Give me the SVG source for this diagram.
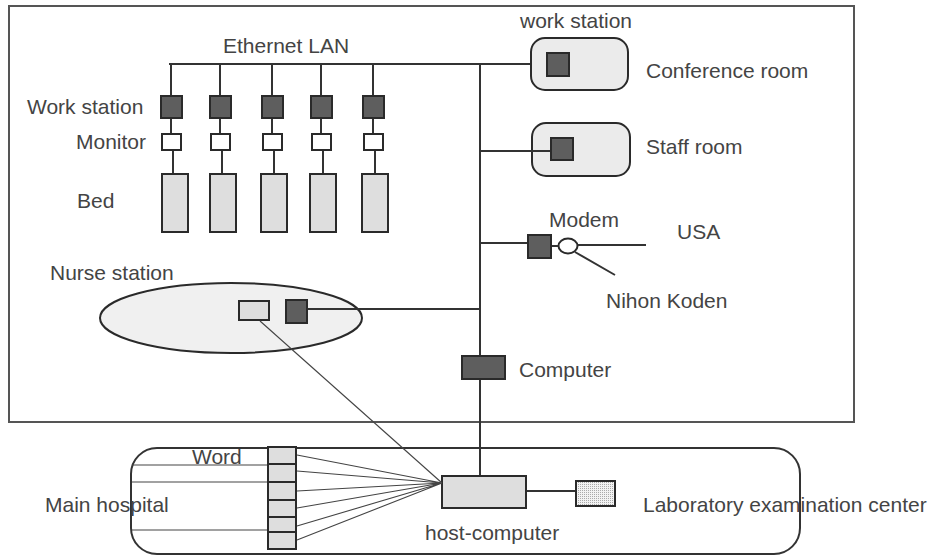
<svg xmlns="http://www.w3.org/2000/svg" width="935" height="556" viewBox="0 0 935 556">
<style>
text{font-family:"Liberation Sans",Arial,sans-serif;font-size:21px;fill:#444}
.ln{stroke:#333;stroke-width:2;fill:none}
.thin{stroke:#444;stroke-width:1.1;fill:none}
.dk{fill:#5e5e5e;stroke:#2a2a2a;stroke-width:2}
.lt{fill:#dedede;stroke:#2a2a2a;stroke-width:2}
.wh{fill:#fff;stroke:#2a2a2a;stroke-width:2}
.room{fill:#ebebeb;stroke:#2a2a2a;stroke-width:2}
</style>
<defs>
<pattern id="grid" width="2" height="2" patternUnits="userSpaceOnUse">
<rect width="2" height="2" fill="#f2f2f2"/>
<rect width="1" height="1" fill="#aaa"/>
</pattern>
</defs>
<rect x="9" y="6" width="845" height="416" fill="none" stroke="#555" stroke-width="2"/>
<g id="beds">
<rect class="dk" x="161" y="96" width="21" height="22"/>
<rect class="dk" x="210" y="96" width="21" height="22"/>
<rect class="dk" x="262" y="96" width="21" height="22"/>
<rect class="dk" x="311" y="96" width="21" height="22"/>
<rect class="dk" x="363" y="96" width="21" height="22"/>
<rect class="wh" x="162" y="134" width="19" height="16"/>
<rect class="wh" x="211" y="134" width="19" height="16"/>
<rect class="wh" x="263" y="134" width="19" height="16"/>
<rect class="wh" x="312" y="134" width="19" height="16"/>
<rect class="wh" x="364" y="134" width="19" height="16"/>
<rect class="lt" x="162" y="174" width="26" height="58"/>
<rect class="lt" x="210" y="174" width="26" height="58"/>
<rect class="lt" x="261" y="174" width="26" height="58"/>
<rect class="lt" x="310" y="174" width="26" height="58"/>
<rect class="lt" x="362" y="174" width="26" height="58"/>
</g>
<g id="labels-left">
<text x="27" y="114">Work station</text>
<text x="76" y="149">Monitor</text>
<text x="77" y="208">Bed</text>
<text x="223" y="53">Ethernet LAN</text>
</g>
<g id="conference">
<rect class="room" x="531" y="38" width="97" height="52" rx="14"/>
<rect class="dk" x="547" y="53" width="22" height="23"/>
<text x="520" y="28">work station</text>
<text x="646" y="78">Conference room</text>
</g>
<g id="staff">
<rect class="room" x="532" y="123" width="98" height="53" rx="14"/>
<rect class="dk" x="551" y="138" width="22" height="22"/>
<text x="646" y="154">Staff room</text>
</g>
<g id="modem">
<rect class="dk" x="528" y="235" width="23" height="23"/>
<ellipse cx="568" cy="246" rx="9.5" ry="7.5" fill="#fff" stroke="#2a2a2a" stroke-width="2"/>
<text x="549" y="227">Modem</text>
<text x="677" y="239">USA</text>
<text x="606" y="308">Nihon Koden</text>
</g>
<g id="nurse">
<ellipse cx="231" cy="318" rx="131" ry="35" fill="#f0f0f0" stroke="#2a2a2a" stroke-width="2"/>
<rect class="lt" x="239" y="301" width="30" height="19"/>
<rect class="dk" x="286" y="300" width="21" height="23"/>
<text x="50" y="280">Nurse station</text>
</g>
<g id="computer">
<rect class="dk" x="462" y="356" width="43" height="23"/>
<text x="519" y="377">Computer</text>
</g>
<g id="hospital">
<rect x="131" y="448" width="669" height="106" rx="26" fill="none" stroke="#333" stroke-width="2"/>
<rect class="lt" x="268" y="447" width="28" height="17"/>
<rect class="lt" x="268" y="464" width="28" height="18"/>
<rect class="lt" x="268" y="482" width="28" height="18"/>
<rect class="lt" x="268" y="500" width="28" height="17"/>
<rect class="lt" x="268" y="517" width="28" height="15"/>
<rect class="lt" x="268" y="532" width="28" height="17"/>
<text x="192" y="464">Word</text>
<text x="45" y="512">Main hospital</text>
</g>
<g id="host">
<rect class="lt" x="442" y="476" width="84" height="32"/>
<text x="425" y="540">host-computer</text>
</g>
<g id="lab">
<rect x="576" y="481" width="39" height="25" fill="url(#grid)" stroke="#2a2a2a" stroke-width="2"/>
<text x="643" y="512">Laboratory examination center</text>
</g>
<g id="connectors">
<path class="ln" d="M169 64H530M480 64V355M480 380V475"/>
<path class="ln" d="M171 64V95M220 64V95M272 64V95M321 64V95M373 64V95"/>
<path class="ln" d="M171 119V133M220 119V133M272 119V133M321 119V133M373 119V133"/>
<path class="ln" d="M173 151V173M222 151V173M274 151V173M323 151V173M375 151V173"/>
<path class="ln" d="M480 151H550M480 243H527M552 246H558.5M577.5 245H646M575 252L615 275M308 309H480M527 491H575"/>
<path class="thin" d="M260 321L442 483"/>
<path class="thin" d="M297 455L442 483M297 471L442 483M297 491L442 483M297 508L442 483M297 526L442 483M297 540L442 483"/>
<path class="thin" d="M132 465H267M132 482H267M132 530H267"/>
</g>
</svg>
